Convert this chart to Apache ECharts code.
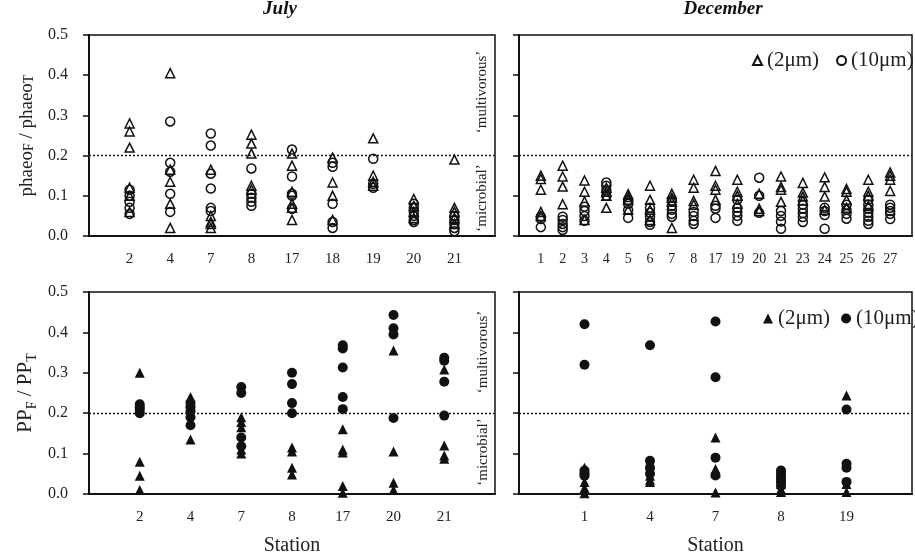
<!DOCTYPE html>
<html>
<head>
<meta charset="utf-8">
<script src="https://cdn.jsdelivr.net/npm/echarts@6/dist/echarts.min.js"></script>
<style>
html,body{margin:0;padding:0;background:#fff;}
#chart{width:915px;height:557px;}
</style>
</head>
<body>
<div id="chart"></div>
<script>
// ---------- DATA ----------
const julyStations = ['2','4','7','8','17','18','19','20','21'];
const julyPhaeo2 = [
  [0.28,0.26,0.22,0.12,0.10,0.06],
  [0.405,0.165,0.135,0.08,0.02],
  [0.165,0.05,0.035,0.03,0.02],
  [0.252,0.23,0.205,0.125,0.115],
  [0.205,0.175,0.11,0.08,0.07,0.04],
  [0.195,0.133,0.10,0.04],
  [0.243,0.15,0.135,0.125],
  [0.092,0.075,0.06,0.045],
  [0.19,0.07,0.06,0.045,0.03]
];
const julyPhaeo10 = [
  [0.115,0.10,0.085,0.07,0.055],
  [0.285,0.182,0.16,0.105,0.06],
  [0.255,0.225,0.155,0.118,0.07,0.062],
  [0.168,0.105,0.095,0.085,0.075],
  [0.215,0.148,0.105,0.10,0.068],
  [0.182,0.172,0.08,0.035,0.02],
  [0.192,0.13,0.12],
  [0.08,0.07,0.06,0.05,0.04,0.035],
  [0.05,0.04,0.03,0.02,0.012]
];
const decStations = ['1','2','3','4','5','6','7','8','17','19','20','21','23','24','25','26','27'];
const decPhaeo2 = [
  [0.15,0.142,0.115,0.06,0.05],
  [0.175,0.148,0.123,0.079],
  [0.138,0.11,0.086,0.04],
  [0.12,0.11,0.10,0.07],
  [0.104,0.097,0.09,0.065],
  [0.125,0.09,0.065,0.04],
  [0.105,0.095,0.085,0.02],
  [0.14,0.12,0.087,0.078],
  [0.162,0.125,0.115,0.09],
  [0.14,0.11,0.10,0.08],
  [0.105,0.068,0.062],
  [0.148,0.122,0.115,0.085],
  [0.132,0.108,0.098,0.088],
  [0.146,0.122,0.098,0.065],
  [0.117,0.11,0.09,0.07],
  [0.14,0.11,0.10,0.075],
  [0.158,0.15,0.14,0.112]
];
const decPhaeo10 = [
  [0.048,0.042,0.022],
  [0.048,0.04,0.03,0.022,0.015],
  [0.073,0.062,0.05,0.038],
  [0.133,0.125,0.113,0.10],
  [0.088,0.08,0.065,0.045],
  [0.07,0.058,0.048,0.035,0.028],
  [0.088,0.075,0.065,0.055,0.048],
  [0.06,0.05,0.038,0.03],
  [0.075,0.068,0.045],
  [0.09,0.07,0.06,0.05,0.038],
  [0.145,0.10,0.058],
  [0.062,0.05,0.036,0.018],
  [0.078,0.068,0.057,0.047,0.035],
  [0.07,0.062,0.052,0.018],
  [0.078,0.065,0.055,0.043],
  [0.09,0.078,0.068,0.058,0.048,0.038,0.03],
  [0.078,0.07,0.062,0.055,0.042]
];
const julyPPStations = ['2','4','7','8','17','20','21'];
const julyPP2 = [
  [0.30,0.08,0.045,0.01],
  [0.24,0.23,0.20,0.135],
  [0.19,0.178,0.165,0.11,0.10],
  [0.115,0.105,0.065,0.048],
  [0.16,0.11,0.103,0.02,0.003],
  [0.355,0.105,0.028,0.01],
  [0.308,0.12,0.095,0.087]
];
const julyPP10 = [
  [0.222,0.215,0.208,0.20],
  [0.225,0.215,0.205,0.19,0.17],
  [0.265,0.25,0.14,0.118],
  [0.30,0.272,0.225,0.20],
  [0.368,0.36,0.313,0.24,0.21],
  [0.443,0.41,0.395,0.188],
  [0.337,0.33,0.278,0.194]
];
const decPPStations = ['1','4','7','8','19'];
const decPP2 = [
  [0.065,0.055,0.03,0.015,0.002],
  [0.072,0.06,0.045,0.035,0.03],
  [0.14,0.062,0.052,0.004],
  [0.04,0.025,0.012,0.005],
  [0.244,0.025,0.005]
];
const decPP10 = [
  [0.42,0.32,0.058,0.05,0.045],
  [0.368,0.082,0.065,0.05],
  [0.427,0.289,0.09,0.046],
  [0.058,0.05,0.042,0.035,0.028,0.02],
  [0.209,0.075,0.065,0.03]
];
const yTickValues = [0, 0.1, 0.2, 0.3, 0.4, 0.5];
const boundary = 0.2;

// ---------- HELPERS ----------
const FONT = 'Liberation Serif';
const INK = '#111';
function toPoints(groups) {
  const out = [];
  groups.forEach((arr, i) => arr.forEach(v => out.push([i + 1, v])));
  return out;
}
function xAxisFor(gi, stations, showName) {
  return {
    gridIndex: gi, type: 'value', min: 0, max: stations.length + 1, interval: 1,
    axisLine: {show: true, lineStyle: {color: INK, width: 2}},
    axisTick: {show: false}, splitLine: {show: false},
    axisLabel: {
      fontFamily: FONT, fontSize: gi === 1 ? 14 : 15, color: '#222', margin: 16,
      formatter: v => (v >= 1 && v <= stations.length) ? stations[v - 1] : ''
    },
    name: showName ? 'Station' : '', nameLocation: 'middle', nameGap: 42,
    nameTextStyle: {fontFamily: FONT, fontSize: 20, color: '#222'}
  };
}
function yAxisFor(gi, showLabels, name, big) {
  return {
    gridIndex: gi, type: 'value', min: yTickValues[0], max: yTickValues[yTickValues.length - 1], interval: 0.1,
    axisLine: {show: true, lineStyle: {color: INK, width: 2}},
    axisTick: {show: true, inside: false, length: 6, lineStyle: {color: INK, width: 1.5}},
    splitLine: {show: false},
    axisLabel: {show: showLabels, fontFamily: FONT, fontSize: 16, color: '#222', margin: 21,
      formatter: v => v.toFixed(1)},
    name: name || '', nameLocation: 'middle', nameGap: big ? 50 : 52,
    nameTextStyle: {
      fontFamily: FONT, color: '#222',
      rich: {
        n: {fontFamily: FONT, fontSize: big ? 21 : 19, color: '#222', verticalAlign: 'top'},
        c: {fontFamily: FONT, fontSize: 14, color: '#222', verticalAlign: 'top', padding: [4, 0, 0, 0]},
        s: {fontFamily: FONT, fontSize: 14, color: '#222', verticalAlign: 'top', padding: [10, 0, 0, 0]}
      }
    }
  };
}
const openStyle = {color: 'rgba(0,0,0,0)', borderColor: INK, borderWidth: 1.5, opacity: 1};
const fillStyle = {color: INK, borderColor: INK, borderWidth: 0, opacity: 1};
function scat(name, gi, groups, symbol, style, size, withLine) {
  const s = {
    name: name, type: 'scatter', xAxisIndex: gi, yAxisIndex: gi,
    symbol: symbol, symbolSize: size, itemStyle: style,
    data: toPoints(groups), silent: true, z: 3
  };
  if (withLine) {
    s.markLine = {
      silent: true, symbol: 'none', label: {show: false},
      lineStyle: {type: [2, 2], color: INK, width: 1.3, opacity: 1},
      data: [{yAxis: boundary}]
    };
  }
  return s;
}

const chart = echarts.init(document.getElementById('chart'), null, {renderer: 'canvas'});
const gridBase = {show: true, borderColor: INK, borderWidth: 1.5, backgroundColor: 'transparent', containLabel: false};
const option = {
  animation: false,
  backgroundColor: '#fff',
  title: [
    {text: 'July', left: 280, top: 0, textAlign: 'center', padding: 0,
     textStyle: {fontFamily: FONT, fontStyle: 'italic', fontWeight: 'bold', fontSize: 19, color: INK}},
    {text: 'December', left: 723, top: 0, textAlign: 'center', padding: 0,
     textStyle: {fontFamily: FONT, fontStyle: 'italic', fontWeight: 'bold', fontSize: 19, color: INK}}
  ],
  grid: [
    Object.assign({left: 89, top: 35, width: 406, height: 201}, gridBase),
    Object.assign({left: 519, top: 35, width: 404, height: 201}, gridBase),
    Object.assign({left: 89, top: 292, width: 406, height: 202}, gridBase),
    Object.assign({left: 519, top: 292, width: 405, height: 202}, gridBase)
  ],
  xAxis: [
    xAxisFor(0, julyStations, false),
    xAxisFor(1, decStations, false),
    xAxisFor(2, julyPPStations, true),
    xAxisFor(3, decPPStations, true)
  ],
  yAxis: [
    yAxisFor(0, true, '{n|phaeo}{c|F}{n| / phaeo}{c|T}', false),
    yAxisFor(1, false),
    yAxisFor(2, true, '{n|PP}{s|F}{n| / PP}{s|T}', true),
    yAxisFor(3, false)
  ],
  legend: [
    {data: ['(2μm)', '(10μm)'], orient: 'horizontal', left: 752, top: 50, width: 400,
     itemWidth: 9, itemHeight: 9, itemGap: 17,
     selectedMode: false, padding: 0,
     textStyle: {fontFamily: FONT, fontSize: 21, color: '#222'}},
    {data: ['PP (2μm)', 'PP (10μm)'], orient: 'horizontal', left: 763, top: 308, width: 400,
     itemWidth: 10, itemHeight: 10, itemGap: 11,
     selectedMode: false, padding: 0, formatter: n => n.replace('PP ', ''),
     textStyle: {fontFamily: FONT, fontSize: 21, color: '#222'}}
  ],
  graphic: [
    {type: 'text', x: 482, y: 92, rotation: Math.PI / 2,
     style: {text: '‘multivorous’', font: '15px "Liberation Serif"', fill: '#222', align: 'center', verticalAlign: 'middle'}},
    {type: 'text', x: 482, y: 198, rotation: Math.PI / 2,
     style: {text: '‘microbial’', font: '15px "Liberation Serif"', fill: '#222', align: 'center', verticalAlign: 'middle'}},
    {type: 'text', x: 483, y: 352, rotation: Math.PI / 2,
     style: {text: '‘multivorous’', font: '15px "Liberation Serif"', fill: '#222', align: 'center', verticalAlign: 'middle'}},
    {type: 'text', x: 483, y: 452, rotation: Math.PI / 2,
     style: {text: '‘microbial’', font: '15px "Liberation Serif"', fill: '#222', align: 'center', verticalAlign: 'middle'}}
  ],
  series: [
    scat('(2μm)', 0, julyPhaeo2, 'triangle', openStyle, 9, true),
    scat('(10μm)', 0, julyPhaeo10, 'circle', openStyle, 9, false),
    scat('(2μm)', 1, decPhaeo2, 'triangle', openStyle, 9, true),
    scat('(10μm)', 1, decPhaeo10, 'circle', openStyle, 9, false),
    scat('PP (2μm)', 2, julyPP2, 'triangle', fillStyle, 10, true),
    scat('PP (10μm)', 2, julyPP10, 'circle', fillStyle, 10, false),
    scat('PP (2μm)', 3, decPP2, 'triangle', fillStyle, 10, true),
    scat('PP (10μm)', 3, decPP10, 'circle', fillStyle, 10, false)
  ]
};
chart.setOption(option);
</script>
</body>
</html>
